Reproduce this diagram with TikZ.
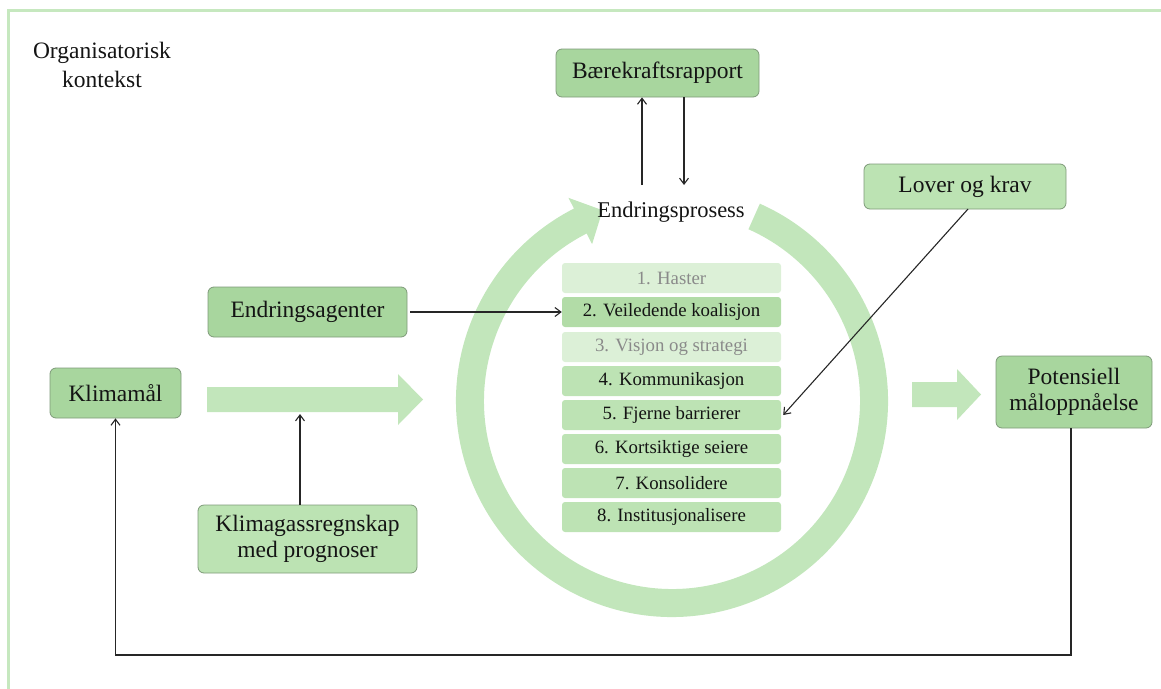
\documentclass[tikz,border=0pt]{standalone}
\usepackage{fontspec}
\setmainfont{Liberation Serif}
\usetikzlibrary{arrows.meta}
\definecolor{framec}{HTML}{C6E8BF}
\definecolor{ringc}{HTML}{C2E6BB}
\definecolor{darkbox}{HTML}{A8D69E}
\definecolor{lightbox}{HTML}{BCE3B3}
\definecolor{rowlight}{HTML}{DCF0D7}
\definecolor{rowmid}{HTML}{BDE3B4}
\definecolor{rowdark}{HTML}{B2DCA7}
\definecolor{boxline}{HTML}{7E9A79}
\definecolor{txt}{HTML}{141414}
\definecolor{graytxt}{HTML}{8A8A8A}
\tikzset{
  box/.style={draw=boxline, line width=0.8pt, rounded corners=6pt, inner sep=0pt,
    align=center, text=txt, font=\fontsize{23.5}{26}\selectfont},
  darkb/.style={box, fill=darkbox},
  lightb/.style={box, fill=lightbox},
  row/.style={rounded corners=3pt, minimum width=219pt, minimum height=30pt, inner sep=0pt,
    text=txt, font=\fontsize{18.8}{20}\selectfont},
  conn/.style={draw=black!85, line width=1.1pt, -{Straight Barb[length=6pt,width=9pt]}},
  plain/.style={draw=black!85, line width=1.1pt}
}
\begin{document}
\begin{tikzpicture}[x=1pt,y=1pt]
\useasboundingbox (0,0) rectangle (1161,-688);
% frame
\draw[framec, line width=3pt] (8,-740) -- (8,-10) -- (1200,-10);
\node[align=center, text=txt, font=\fontsize{23.5}{29}\selectfont] (org) at (102,-65) {Organisatorisk\\kontekst};

% ring with arrow head
\fill[ringc, shift={(672,-401)}] (66:216) arc[start angle=66, end angle=-243, radius=216]
  -- (-243:228) -- (-250:203) -- (-243:176) -- (-243:188)
  arc[start angle=-243, end angle=66, radius=188] -- cycle;

% big arrows
\fill[ringc] (207,-387) -- (398,-387) -- (398,-374) -- (423,-399.5) -- (398,-425) -- (398,-412) -- (207,-412) -- cycle;
\fill[ringc] (912,-382) -- (957,-382) -- (957,-369) -- (981,-394.5) -- (957,-420) -- (957,-407) -- (912,-407) -- cycle;
\coordinate (bigarrow) at (300,-414);

% list rows
\node[row, fill=rowlight, text=graytxt] (r1) at (671.5,-278) {1. Haster};
\node[row, fill=rowdark] (r2) at (671.5,-312) {2. Veiledende koalisjon};
\node[row, fill=rowlight, text=graytxt] (r3) at (671.5,-347) {3. Visjon og strategi};
\node[row, fill=rowmid] (r4) at (671.5,-381) {4. Kommunikasjon};
\node[row, fill=rowmid] (r5) at (671.5,-415) {5. Fjerne barrierer};
\node[row, fill=rowmid] (r6) at (671.5,-449) {6. Kortsiktige seiere};
\node[row, fill=rowmid] (r7) at (671.5,-483) {7. Konsolidere};
\node[row, fill=rowmid] (r8) at (671.5,-517) {8. Institusjonalisere};

% nodes
\node[darkb, minimum width=203pt, minimum height=48pt] (baer) at (657.5,-73) {Bærekraftsrapport};
\node[text=txt, font=\fontsize{22.5}{24}\selectfont, inner sep=2pt] (endr) at (671,-212) {Endringsprosess};
\node[lightb, minimum width=202pt, minimum height=45pt] (lover) at (965,-186.5) {Lover og krav};
\node[darkb, minimum width=199pt, minimum height=50pt] (agent) at (307.5,-312) {Endringsagenter};
\node[darkb, minimum width=131pt, minimum height=50pt] (klima) at (115.5,-393) {Klimamål};
\node[lightb, minimum width=219pt, minimum height=68pt] (gass) at (307.5,-539) {Klimagassregnskap\\med prognoser};
\node[darkb, minimum width=156pt, minimum height=72pt] (pot) at (1074,-392) {Potensiell\\måloppnåelse};

% connectors
\coordinate (e1) at (642,-185);
\coordinate (e2) at (684,-185);
\draw[conn] (e1) -- (e1 |- baer.south);
\draw[conn] (e2 |- baer.south) -- (e2);
\draw[conn] (agent.east) ++(3,0) -- (r2.west);
\draw[conn] (gass.north -| bigarrow) -- (bigarrow);
\coordinate (lv) at (968,-209);
\draw[conn] (lv) -- ([xshift=2pt]r5.east);
\coordinate (fb) at (1071,-655);
\draw[conn] (pot.south -| fb) -- (fb) -- (fb -| klima.south) -- (klima.south);
\end{tikzpicture}
\end{document}
